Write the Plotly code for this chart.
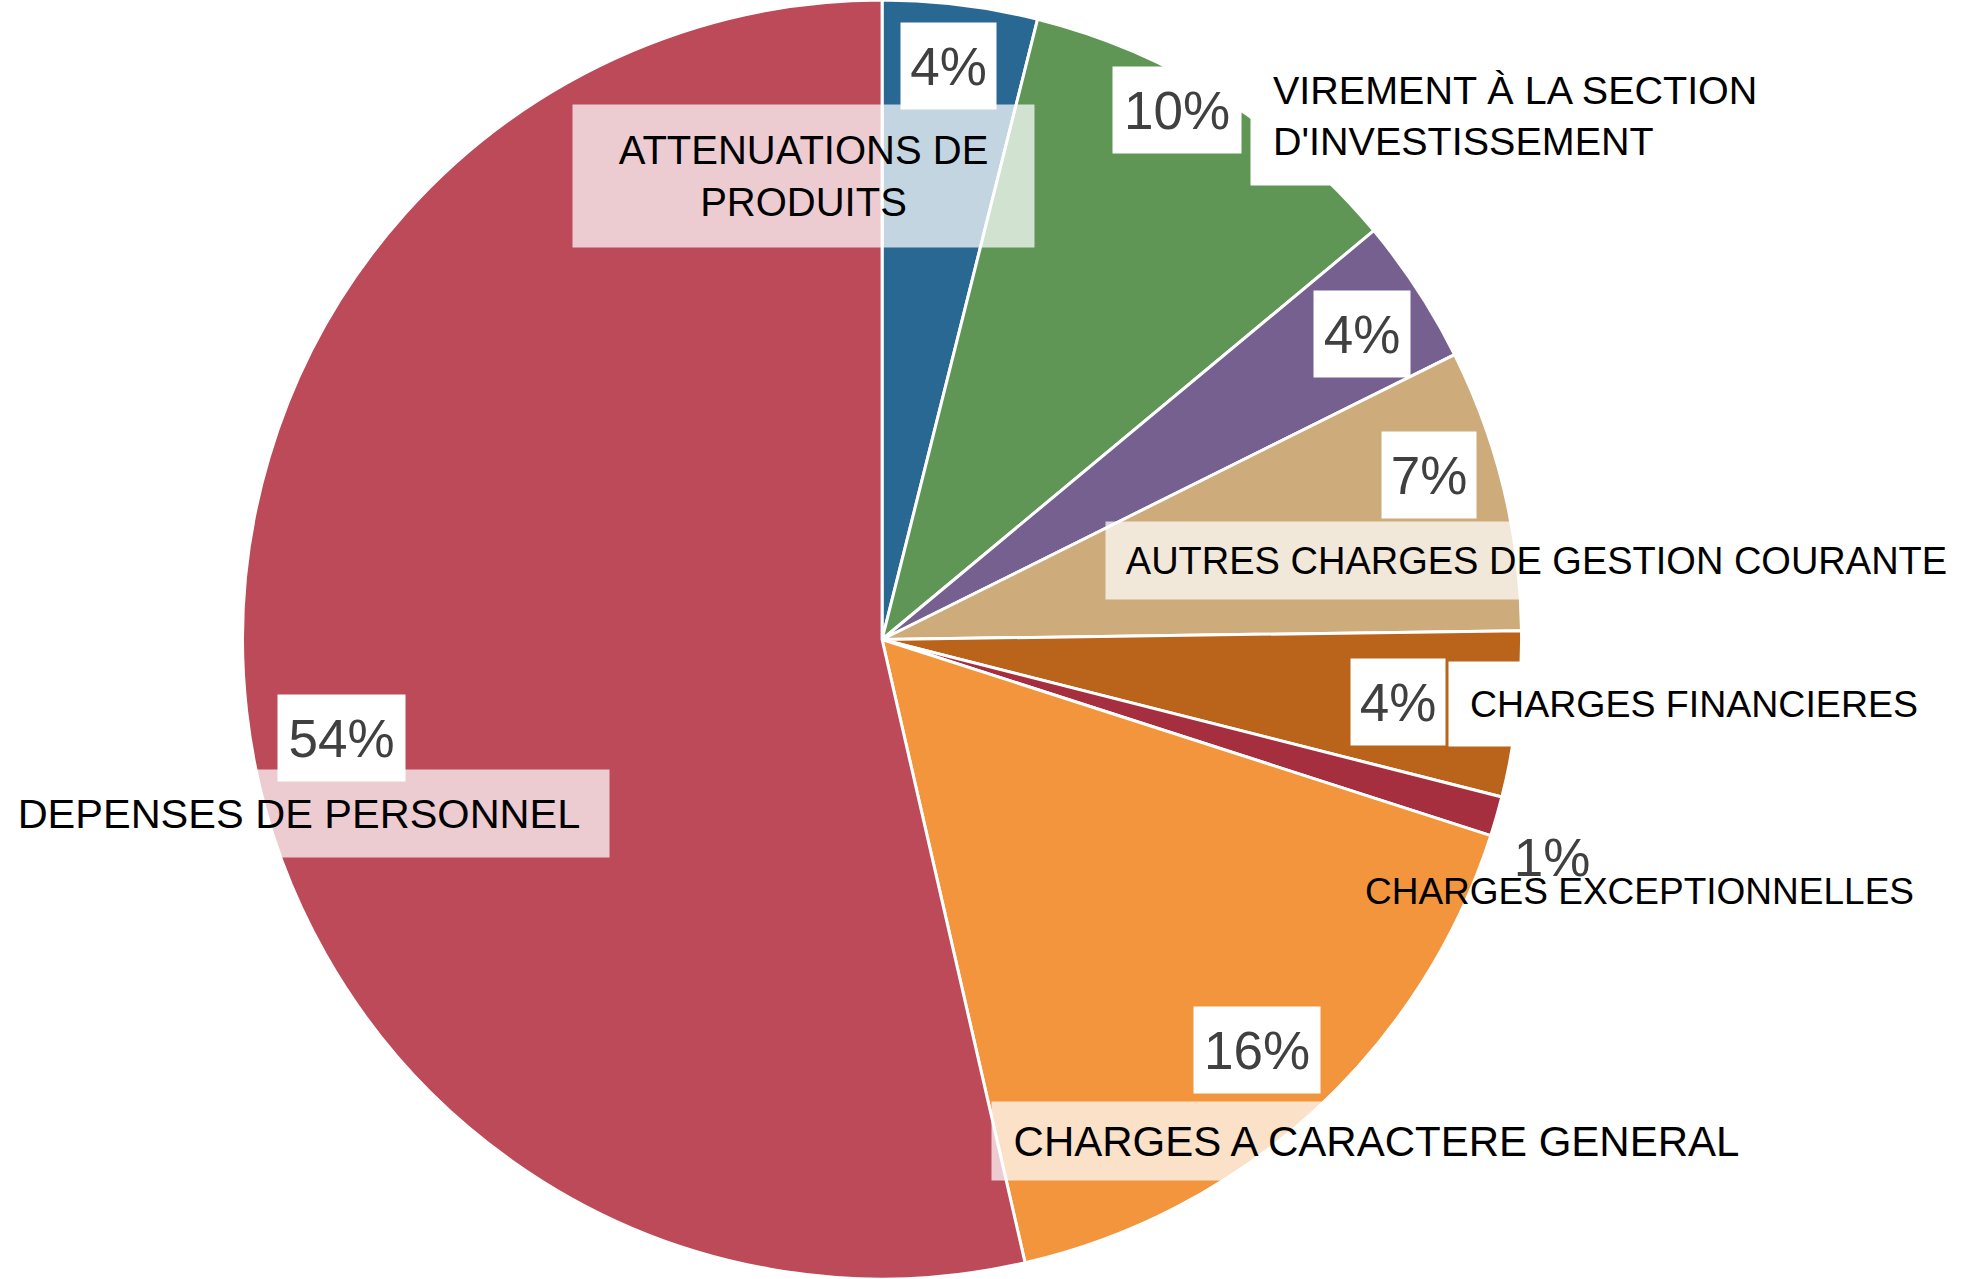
import plotly.graph_objects as go

# ---------------- data ----------------
categories = [
    "ATTENUATIONS DE PRODUITS",
    "VIREMENT À LA SECTION D'INVESTISSEMENT",
    "OPERATIONS D'ORDRE DE TRANSFERT ENTRE SECTIONS",
    "AUTRES CHARGES DE GESTION COURANTE",
    "CHARGES FINANCIERES",
    "CHARGES EXCEPTIONNELLES",
    "CHARGES A CARACTERE GENERAL",
    "DEPENSES DE PERSONNEL",
]
values = [3.91, 10.05, 3.69, 7.13, 4.18, 1.00, 16.45, 53.59]
# label text shown for each category (None = not shown on the chart)
shown_names = [
    "ATTENUATIONS DE<br>PRODUITS",
    "VIREMENT À LA SECTION<br>D'INVESTISSEMENT",
    None,
    "AUTRES CHARGES DE GESTION COURANTE",
    "CHARGES FINANCIERES",
    "CHARGES EXCEPTIONNELLES",
    "CHARGES A CARACTERE GENERAL",
    "DEPENSES DE PERSONNEL",
]

# ---------------- style ----------------
colors = ["#2a6894", "#5f9656", "#75608f", "#cdab7a",
          "#b9641a", "#a52f3e", "#f2953d", "#bc4a59"]

W, H = 1972, 1279
FONT = "Liberation Sans, Arial, sans-serif"

def fx(x):
    return x / W

def fy(y):
    return 1 - y / H

total = sum(values)
pct_text = [f"{round(v / total * 100)}%" for v in values]

# placement of the percent boxes (center x, center y, box width, has box)
pct_place = [
    (948, 66, 95, True),
    (1177, 110, 128, True),
    (1362, 334, 96, True),
    (1429, 475, 94, True),
    (1398, 702, 94, True),
    (1552, 858, 80, False),
    (1257, 1050, 126, True),
    (341, 738, 127, True),
]

# placement of the category-name labels
# (x, y, xanchor, width, height, bgcolor, borderpad, size)
TRANS = "rgba(255,255,255,0.72)"
name_place = [
    (803.5, 176, "center", 461, 142, TRANS, 0, 40),
    (1250, 116, "left", None, None, "white", 22, 39.5),
    None,
    (1536.5, 560, "center", 861, 77, TRANS, 0, 38),
    (1448, 704, "left", None, None, "white", 21, 37.5),
    (1364, 891, "left", None, None, "rgba(0,0,0,0)", 0, 37),
    (1376.5, 1141, "center", 769, 78, TRANS, 0, 42),
    (299, 813.5, "center", 620, 87, TRANS, 0, 41.5),
]

fig = go.Figure(
    go.Pie(
        labels=categories,
        values=values,
        sort=False,
        direction="clockwise",
        rotation=0,
        marker=dict(colors=colors, line=dict(color="white", width=3)),
        textinfo="none",
        hoverinfo="label+percent",
        showlegend=False,
        domain=dict(x=[0.1230, 0.7716], y=[0, 1]),
    )
)

annotations = []
for i in range(len(values)):
    cx, cy, bw, box = pct_place[i]
    annotations.append(dict(
        text=pct_text[i], xref="paper", yref="paper",
        x=fx(cx), y=fy(cy), xanchor="center", yanchor="middle",
        showarrow=False, width=bw, height=86 if box else None,
        bgcolor="white" if box else "rgba(0,0,0,0)", borderpad=0,
        font=dict(family=FONT, size=53, color="#404040"),
    ))
for i in range(len(values)):
    if shown_names[i] is None or name_place[i] is None:
        continue
    x, y, xa, w, h, bg, pad, size = name_place[i]
    annotations.append(dict(
        text=shown_names[i], xref="paper", yref="paper",
        x=fx(x), y=fy(y), xanchor=xa, yanchor="middle",
        showarrow=False, width=w, height=h,
        align="center" if xa == "center" else "left",
        bgcolor=bg, borderpad=pad,
        font=dict(family=FONT, size=size, color="black"),
    ))

fig.update_layout(
    width=W, height=H,
    margin=dict(l=0, r=0, t=0, b=0),
    paper_bgcolor="white", plot_bgcolor="white",
    annotations=annotations,
)

fig.write_html(
    "out.html",
    config={"displayModeBar": False},
    post_script="document.body.style.margin='0';document.body.style.overflow='hidden';",
)
